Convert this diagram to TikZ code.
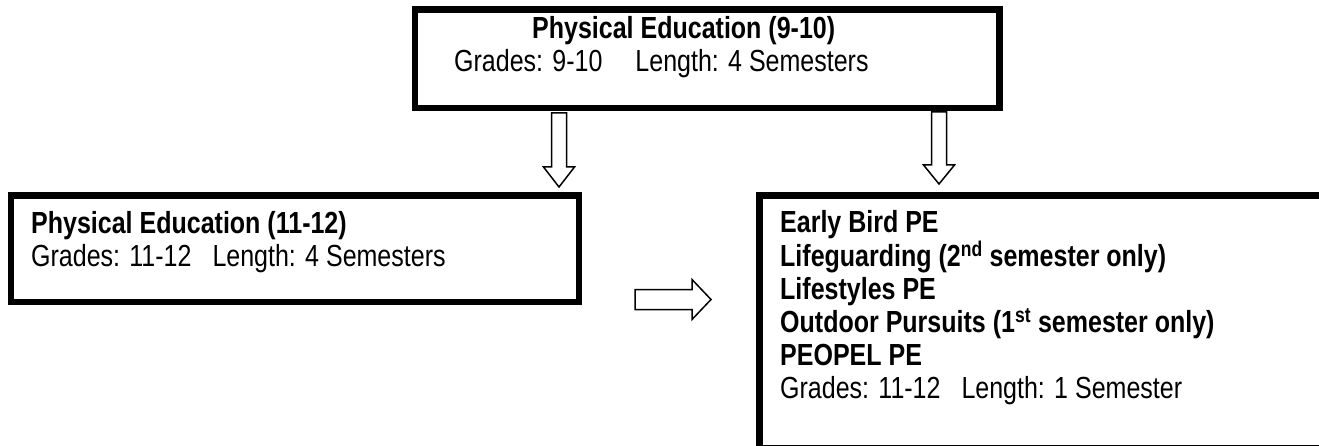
\documentclass[tikz,border=0pt]{standalone}
\usepackage{fontspec}
\setmainfont{Liberation Sans}[FakeStretch=0.82]
\usetikzlibrary{calc}

\begin{document}
\begin{tikzpicture}[x=1pt, y=-1pt]
    \tikzstyle{box} = [draw, line width=6.5pt, inner sep=0pt, anchor=north west]
    \tikzstyle{head} = [anchor=base west, inner sep=0pt, font=\fontsize{30.5}{33}\selectfont\bfseries]
    \tikzstyle{info} = [anchor=base west, inner sep=0pt, font=\fontsize{30.5}{33}\selectfont]
    \tikzstyle{hollow} = [draw, line width=1.5pt, fill=white, miter limit=10]
    \useasboundingbox (0,0) rectangle (1319,446);
    \clip (0,0) rectangle (1319,446);
    % the three boxes
    \node[box, minimum width=584.5pt, minimum height=98.5pt] (pe910) at (411.5,6.5) {};
    \node[box, minimum width=568pt, minimum height=106pt] (pe1112) at (7.5,192.5) {};
    \node[box, minimum width=580pt, minimum height=252pt] (electives) at (756,192.5) {};
    % texts
    \node[head] (pe910title) at (532,39) {Physical Education (9-10)};
    \node[info] (pe910info) at (454,72) {Grades: 9-10\hspace{33pt}Length: 4 Semesters};
    \node[head] (pe1112title) at (31,234) {Physical Education (11-12)};
    \node[info] (pe1112info) at (31,267) {Grades: 11-12\hspace{21pt}Length: 4 Semesters};
    \node[head] (early) at (780,233) {Early Bird PE};
    \node[head] (lifeguard) at (780,266) {Lifeguarding (2\textsuperscript{nd} semester only)};
    \node[head] (lifestyles) at (780,299) {Lifestyles PE};
    \node[head] (outdoor) at (780,332) {Outdoor Pursuits (1\textsuperscript{st} semester only)};
    \node[head] (peopel) at (780,365) {PEOPEL PE};
    \node[info] (electinfo) at (780,398) {Grades: 11-12\hspace{21pt}Length: 1 Semester};
    % block arrows
    \coordinate (downL) at (559,113);
    \coordinate (downR) at (939,112);
    \coordinate (across) at (635,299.5);
    \draw[hollow] (downL) ++(-7.5,0) -- ++(0,54) -- ++(-8,0) -- ++(15.5,20) -- ++(15.5,-20) -- ++(-8,0) -- ++(0,-54) -- cycle;
    \draw[hollow] (downR) ++(-7.5,0) -- ++(0,53) -- ++(-8,0) -- ++(15.5,19) -- ++(15.5,-19) -- ++(-8,0) -- ++(0,-53) -- cycle;
    \draw[hollow] (across) ++(0,-10) -- ++(57,0) -- ++(0,-10) -- ++(19,20) -- ++(-19,20) -- ++(0,-10) -- ++(-57,0) -- cycle;
\end{tikzpicture}
\end{document}
